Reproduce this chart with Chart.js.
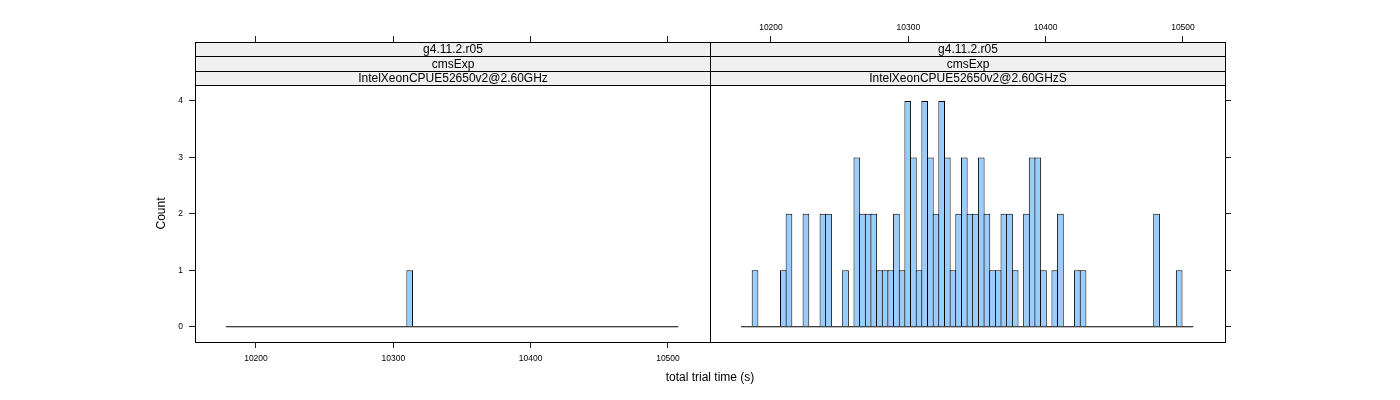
<!DOCTYPE html>
<html>
<head>
<meta charset="utf-8">
<script src="https://cdn.jsdelivr.net/npm/chart.js@4.4.1/dist/chart.umd.min.js"></script>
<style>
  body { margin: 0; background: #fff; }
  #wrap { width: 1400px; height: 400px; }
</style>
</head>
<body>
<div id="wrap"><canvas id="grafico" width="1400" height="400"></canvas></div>
<script>
// histogram breaks (total trial time, s)
const breakStart = 10178.1;
const binWidth = 4.118;

// counts per bin - left panel (IntelXeonCPUE52650v2@2.60GHz)
const countsLeft = [
  0,0,0,0,0,0,0,0,0,0,
  0,0,0,0,0,0,0,0,0,0,
  0,0,0,0,0,0,0,0,0,0,
  0,0,1,0,0,0,0,0,0,0,
  0,0,0,0,0,0,0,0,0,0,
  0,0,0,0,0,0,0,0,0,0,
  0,0,0,0,0,0,0,0,0,0,
  0,0,0,0,0,0,0,0,0,0
];

// counts per bin - right panel (IntelXeonCPUE52650v2@2.60GHzS)
const countsRight = [
  0,0,1,0,0,0,0,1,2,0,
  0,2,0,0,2,2,0,0,1,0,
  3,2,2,2,1,1,1,2,1,4,
  3,1,4,3,2,4,3,1,2,3,
  2,2,3,2,1,1,2,2,1,0,
  2,3,3,1,0,1,2,0,0,1,
  1,0,0,0,0,0,0,0,0,0,
  0,0,0,2,0,0,0,1,0,0
];

const xTicks = [10200, 10300, 10400, 10500];
const yTicks = [0, 1, 2, 3, 4];

const stripTop = ["g4.11.2.r05", "g4.11.2.r05"];
const stripMid = ["cmsExp", "cmsExp"];
const stripBottom = ["IntelXeonCPUE52650v2@2.60GHz", "IntelXeonCPUE52650v2@2.60GHzS"];

// panel limits (x of one panel, y incl. the strip area above the panel)
const xLim = [10155.6, 10530.6];
const yLim = [-0.27, 5.044];
const panelShift = xLim[1] - xLim[0];
const stripHeight = 14.33;

const FONT = "'Liberation Sans', Arial, sans-serif";
const breakEnd = breakStart + countsLeft.length * binWidth;

function histData(counts, shift){
  return counts.map((c, i) => ({ x: breakStart + (i + 0.5) * binWidth + shift, y: c }));
}

function barSet(counts, shift){
  return {
    type: 'bar',
    data: histData(counts, shift),
    backgroundColor: '#99CCFF',
    borderColor: '#000',
    borderWidth: 1,
    grouped: false,
    categoryPercentage: 1,
    barPercentage: 1.18, // neighbours overlap so shared edges look like one line
    order: 1
  };
}

function baseLine(shift){
  return {
    type: 'line',
    data: [{ x: breakStart + shift, y: 0 }, { x: breakEnd + shift, y: 0 }],
    borderColor: '#000',
    borderWidth: 1,
    pointRadius: 0,
    order: 2
  };
}

const panelPlugin = {
  id: 'panels',
  afterDraw(chart){
    const { ctx, chartArea, scales } = chart;
    const top = chartArea.top;
    const bottom = Math.round(chartArea.bottom) + 0.5;
    const xs = [xLim[0], xLim[1], xLim[1] + panelShift].map(v => Math.round(scales.x.getPixelForValue(v)) + 0.5);
    const texts = [stripTop, stripMid, stripBottom];

    ctx.save();
    for (let p = 0; p < 2; p++){
      const l = xs[p], r = xs[p + 1];
      for (let row = 0; row < 3; row++){
        const y0 = Math.round(top + row * stripHeight) + 0.5;
        const y1 = Math.round(top + (row + 1) * stripHeight) + 0.5;
        ctx.fillStyle = '#f0f0f0';
        ctx.fillRect(l, y0, r - l, y1 - y0);
        ctx.strokeStyle = '#000';
        ctx.lineWidth = 1;
        ctx.strokeRect(l, y0, r - l, y1 - y0);
        ctx.fillStyle = '#000';
        ctx.font = '12px ' + FONT;
        ctx.textAlign = 'center';
        ctx.textBaseline = 'middle';
        ctx.fillText(texts[row][p], (l + r) / 2, (y0 + y1) / 2 + 0.5);
      }
      ctx.strokeStyle = '#000';
      ctx.strokeRect(l, Math.round(top) + 0.5, r - l, bottom - Math.round(top) - 0.5);
    }

    // y axis title, centred on the panel (below the strips)
    const panelTop = top + 3 * stripHeight;
    ctx.translate(chartArea.left - 33.5, (panelTop + chartArea.bottom) / 2);
    ctx.rotate(-Math.PI / 2);
    ctx.fillStyle = '#000';
    ctx.font = '12px ' + FONT;
    ctx.textAlign = 'center';
    ctx.textBaseline = 'middle';
    ctx.fillText('Count', 0, 0);
    ctx.restore();
  }
};

const tickFont = { family: FONT, size: 8.5 };
const gridOpts = { drawOnChartArea: false, drawTicks: true, tickLength: 6, color: '#222', tickColor: '#222', offset: false };

const chart = new Chart(document.getElementById('grafico'), {
  type: 'bar',
  data: {
    datasets: [
      baseLine(0),
      baseLine(panelShift),
      barSet(countsLeft, 0),
      barSet(countsRight, panelShift)
    ]
  },
  plugins: [panelPlugin],
  options: {
    responsive: false,
    animation: false,
    layout: { padding: { left: 150, right: 0, top: 0, bottom: 11 } },
    plugins: {
      legend: { display: false },
      tooltip: { enabled: false }
    },
    scales: {
      x: {
        type: 'linear',
        position: 'bottom',
        min: xLim[0],
        max: xLim[1] + panelShift,
        offset: false,
        grid: gridOpts,
        border: { display: false },
        afterBuildTicks: s => { s.ticks = xTicks.map(v => ({ value: v })); },
        afterFit: s => { s.height = 47; },
        ticks: { font: tickFont, color: '#000', padding: 6, autoSkip: false, maxRotation: 0,
                 callback: v => String(Math.round(v)) },
        title: { display: true, text: 'total trial time (s)', color: '#000', font: { family: FONT, size: 12 } }
      },
      x2: {
        type: 'linear',
        position: 'top',
        min: xLim[0],
        max: xLim[1] + panelShift,
        offset: false,
        grid: gridOpts,
        border: { display: false },
        afterBuildTicks: s => {
          s.ticks = xTicks.map(v => ({ value: v })).concat(xTicks.map(v => ({ value: v + panelShift })));
        },
        afterFit: s => { s.height = 42; },
        ticks: { font: tickFont, color: '#000', padding: 3.5, autoSkip: false, maxRotation: 0,
                 callback: v => v > xLim[1] ? String(Math.round(v - panelShift)) : '' }
      },
      y: {
        type: 'linear',
        position: 'left',
        min: yLim[0],
        max: yLim[1],
        grid: gridOpts,
        border: { display: false },
        afterBuildTicks: s => { s.ticks = yTicks.map(v => ({ value: v })); },
        afterFit: s => { s.width = 45; },
        ticks: { font: tickFont, color: '#000', padding: 6, callback: v => String(v) }
      },
      y2: {
        type: 'linear',
        position: 'right',
        min: yLim[0],
        max: yLim[1],
        grid: gridOpts,
        border: { display: false },
        afterBuildTicks: s => { s.ticks = yTicks.map(v => ({ value: v })); },
        afterFit: s => { s.width = 175; },
        ticks: { font: tickFont, callback: () => '' }
      }
    }
  }
});
</script>
</body>
</html>
